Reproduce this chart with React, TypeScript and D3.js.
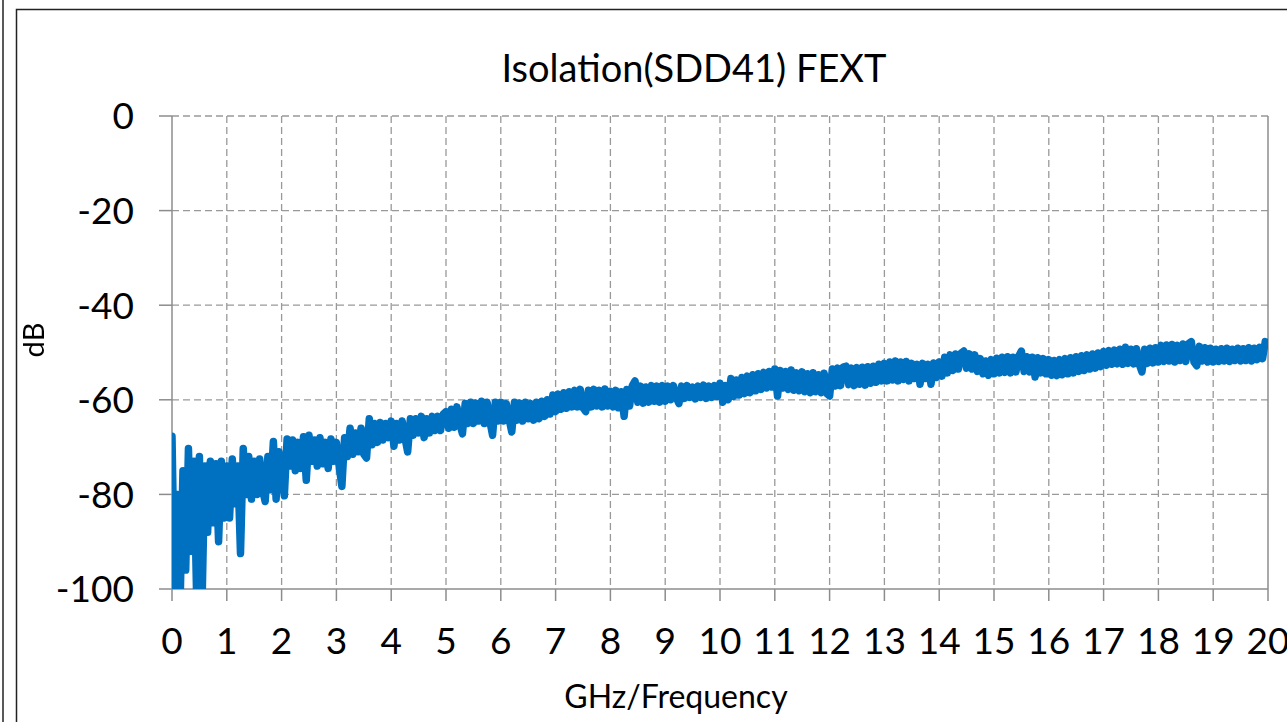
import React, { useEffect, useRef } from "react";
import * as d3 from "d3";

const title = "Isolation(SDD41) FEXT";
const xTitle = "GHz/Frequency";
const yTitle = "dB";
const xTicks = [0, 1, 2, 3, 4, 5, 6, 7, 8, 9, 10, 11, 12, 13, 14, 15, 16, 17, 18, 19, 20];
const yTicks = [0, -20, -40, -60, -80, -100];

// sweep step of the measurement, GHz (sample i sits at i * freqStep)
const freqStep = 0.05;

// SDD41 magnitude in dB, one row per GHz
const sdd41 = [
  -67.7, -102, -80, -102, -75, -96, -70.3, -92, -73, -102, -72, -102, -74, -88, -73, -86, -73.5, -90, -73, -85,
  -74, -85, -72.5, -82, -74, -92.5, -70.3, -80, -72, -81, -73, -80, -72.5, -79, -81.5, -72, -79, -68.8, -81, -71,
  -75, -80.3, -68.3, -74, -68.5, -75, -69, -74.5, -67.8, -77, -67.5, -73, -68.5, -74, -68, -73.5, -69, -74.5, -68.3, -73,
  -69, -74, -78.3, -68, -72, -66, -71.5, -67, -71, -66, -71.5, -72.3, -64, -69.5, -65, -69, -64.8, -68.5, -65, -68,
  -64.5, -69.8, -65, -68.5, -64.5, -68, -71, -64, -67.5, -64, -67, -63.5, -68, -64, -67, -63.5, -66.5, -63.5, -66.5, -63,
  -62.5, -66, -62, -65.8, -61.5, -65, -67.2, -60.8, -65, -60.5, -65, -60.7, -64.5, -60.3, -65, -60.5, -64.5, -67.5, -60.5, -64.5,
  -60.5, -64.5, -60.8, -64, -66.8, -60.5, -64.3, -60.7, -64.5, -60.5, -64, -60.8, -64.3, -60.5, -64, -60.3, -63.5, -60, -63, -59,
  -62.5, -58.8, -62, -58.5, -61.8, -58.3, -61.5, -58, -61.5, -57.8, -61.7, -62.5, -58, -61.5, -57.8, -61.3, -58, -61.5, -57.7, -61.3,
  -58.2, -61.5, -58, -61.7, -58.3, -63.5, -57.8, -61.3, -57, -56, -60.5, -57.1, -60.7, -57.3, -60.5, -57, -60.3, -57.1, -60.5, -57,
  -60.3, -57.1, -60, -57, -59.5, -60.8, -57.1, -59.7, -57, -59.5, -57.3, -59.8, -57.1, -59.5, -56.9, -59.7, -57.1, -59.5, -57, -59.3,
  -56.5, -60.5, -57, -60, -55.5, -59.3, -55.8, -59, -55.3, -58.7, -55, -58.5, -54.7, -58.1, -54.5, -57.8, -54.2, -57.5, -54, -57.3,
  -53.5, -59.2, -53.8, -57.5, -54, -57.8, -53.7, -58, -54.3, -58.1, -54.1, -58.3, -54.5, -58.5, -54.3, -58.3, -54.7, -58.5, -54.4, -58.7,
  -59.2, -53.5, -57.1, -53.3, -57, -53.1, -52.9, -56.8, -53.3, -57, -53.2, -56.7, -53.1, -56.9, -53, -56.5, -52.9, -56.3, -52.5, -56,
  -52.3, -56, -52, -55.8, -51.8, -56, -52, -55.7, -51.9, -56, -52.3, -55.5, -52.5, -56.7, -52.3, -55.5, -52.5, -56.7, -52.2, -55.3,
  -52, -55, -51, -54.3, -50.5, -53.8, -50.3, -53.5, -50.1, -49.7, -53.3, -50.3, -53.5, -50.5, -54, -51.3, -54.5, -51.8, -54.8, -51.5,
  -54.5, -51.2, -54.3, -51, -54.2, -50.9, -54.3, -51, -54.1, -50.8, -49.7, -54, -50.9, -54.1, -51, -55.2, -51.1, -54.3, -51.3, -54.5,
  -51.5, -54.8, -51.7, -54.9, -51.5, -54.7, -51.3, -54.5, -51.1, -54.3, -50.9, -54, -50.7, -53.8, -50.5, -53.5, -50.3, -53.3, -50.1, -53,
  -49.8, -52.7, -49.6, -52.5, -49.5, -52.4, -49.3, -52.5, -48.9, -52.3, -49.3, -52.4, -49.2, -52.5, -54.1, -49.3, -52.3, -49.1, -52.2, -49,
  -52, -48.5, -51.9, -48.4, -51.8, -48.3, -52, -48.5, -51.7, -48.2, -51.9, -48.1, -47.7, -52, -52.8, -48.7, -51.8, -49, -52, -49.1,
  -52, -49.3, -51.9, -49.2, -51.8, -49.1, -51.9, -49.3, -51.7, -49.1, -51.8, -49.2, -51.7, -49, -51.8, -49.1, -51.5, -48.9, -51.3, -47.7,
  -48,
];

const FONT = "Lato, 'Noto Sans', sans-serif";

export default function App() {
  const ref = useRef<SVGSVGElement>(null);

  useEffect(() => {
    const svg = d3.select(ref.current);
    svg.selectAll("*").remove();

    const width = 1287, height = 722;
    const margin = { top: 116, right: 19, bottom: 133, left: 172 };

    const x = d3.scaleLinear().domain([0, 20]).range([margin.left, width - margin.right]);
    const y = d3.scaleLinear().domain([-100, 0]).range([height - margin.bottom, margin.top]);

    // chart frame (and the edge of the neighbouring one)
    svg.append("line")
      .attr("x1", 3).attr("x2", 3).attr("y1", 0).attr("y2", height)
      .attr("stroke", "#222").attr("stroke-width", 1.5);
    svg.append("rect")
      .attr("x", 16.5).attr("y", 9.5)
      .attr("width", width).attr("height", height)
      .attr("fill", "white").attr("stroke", "#222").attr("stroke-width", 1.5);

    // gridlines
    const grid = svg.append("g").attr("stroke", "#999").attr("stroke-width", 1.3)
      .attr("stroke-dasharray", "7,4");
    grid.selectAll("line.v")
      .data(xTicks.slice(1, -1))
      .enter().append("line")
      .attr("x1", d => x(d)).attr("x2", d => x(d))
      .attr("y1", y(0)).attr("y2", y(-100));
    grid.selectAll("line.h")
      .data(yTicks.slice(0, -1))
      .enter().append("line")
      .attr("x1", x(0)).attr("x2", x(20))
      .attr("y1", d => y(d)).attr("y2", d => y(d));

    // axes
    const axis = svg.append("g").attr("stroke", "#8c8c8c").attr("stroke-width", 1.5);
    axis.append("line").attr("x1", x(0)).attr("x2", x(0)).attr("y1", y(0)).attr("y2", y(-100));
    axis.append("line").attr("x1", x(20)).attr("x2", x(20)).attr("y1", y(0)).attr("y2", y(-100));
    axis.append("line").attr("x1", x(0) - 13).attr("x2", x(20)).attr("y1", y(-100)).attr("y2", y(-100));
    axis.selectAll("line.ty")
      .data(yTicks.slice(0, -1))
      .enter().append("line")
      .attr("x1", x(0) - 13).attr("x2", x(0))
      .attr("y1", d => y(d)).attr("y2", d => y(d));
    axis.selectAll("line.tx")
      .data(xTicks)
      .enter().append("line")
      .attr("x1", d => x(d)).attr("x2", d => x(d))
      .attr("y1", y(-100)).attr("y2", y(-100) + 12);

    // the trace, clipped to the plot area like Excel does
    svg.append("clipPath").attr("id", "plot-clip")
      .append("rect")
      .attr("x", x(0)).attr("y", y(0))
      .attr("width", x(20) - x(0)).attr("height", y(-100) - y(0));

    const line = d3.line<number>()
      .x((d, i) => x(i * freqStep))
      .y(d => y(d));

    svg.append("path")
      .datum(sdd41)
      .attr("clip-path", "url(#plot-clip)")
      .attr("d", line)
      .attr("fill", "none")
      .attr("stroke", "#0070c0")
      .attr("stroke-width", 7.5)
      .attr("stroke-linejoin", "round")
      .attr("stroke-linecap", "round");

    // tick labels
    svg.selectAll("text.ylab")
      .data(yTicks)
      .enter().append("text")
      .attr("x", x(0) - 38)
      .attr("y", d => y(d))
      .attr("dy", "0.36em")
      .attr("text-anchor", "end")
      .attr("font-family", FONT).attr("font-size", 37).attr("fill", "#000")
      .text(d => d);

    // the last label runs past the frame in the original too
    svg.selectAll("text.xlab")
      .data(xTicks)
      .enter().append("text")
      .attr("x", d => x(d))
      .attr("y", 654)
      .attr("text-anchor", "middle")
      .attr("font-family", FONT).attr("font-size", 37).attr("fill", "#000")
      .text(d => d);

    // titles
    svg.append("text")
      .attr("x", 694).attr("y", 82)
      .attr("text-anchor", "middle")
      .attr("font-family", FONT).attr("font-size", 38).attr("fill", "#000")
      .text(title);

    svg.append("text")
      .attr("x", 676).attr("y", 708)
      .attr("text-anchor", "middle")
      .attr("font-family", FONT).attr("font-size", 32).attr("fill", "#000")
      .text(xTitle);

    svg.append("text")
      .attr("transform", "translate(44,340) rotate(-90)")
      .attr("text-anchor", "middle")
      .attr("font-family", FONT).attr("font-size", 29).attr("fill", "#000")
      .text(yTitle);
  }, []);

  return (
    <div style={{ position: "fixed", left: 0, top: 0 }}>
      <svg ref={ref} width={1287} height={722} style={{ display: "block" }} />
    </div>
  );
}
